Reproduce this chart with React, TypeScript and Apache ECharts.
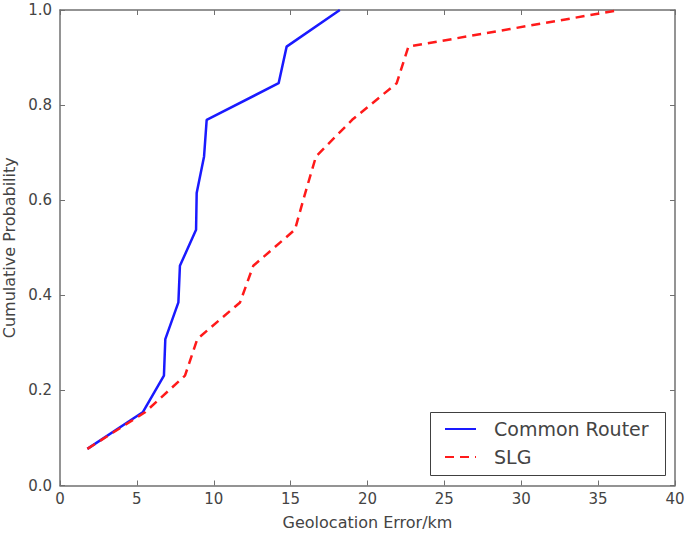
import React, { useEffect, useRef } from "react";
import * as echarts from "echarts";

const probabilities = [0.077, 0.154, 0.231, 0.308, 0.385, 0.462, 0.538, 0.615, 0.692, 0.769, 0.846, 0.923, 1.0];
const commonRouterErr = [1.78, 5.38, 6.76, 6.85, 7.7, 7.8, 8.85, 8.89, 9.37, 9.54, 14.22, 14.74, 18.2];
const slgErr = [1.78, 5.53, 8.13, 8.93, 11.71, 12.57, 15.28, 15.95, 16.65, 19.0, 21.9, 22.66, 36.4];
const seriesNames = ["Common Router", "SLG"];

const FONT = "DejaVu Sans";
const TEXT = "#444444";
const FRAME = "#707070";

export default function App() {
  const ref = useRef<HTMLDivElement>(null);
  useEffect(() => {
    if (!ref.current) return;
    const chart = echarts.init(ref.current, null, { renderer: "svg" });
    const pair = (xs: number[]) => xs.map((x, i) => [x, probabilities[i]]);
    const axisCommon = {
      axisLine: { show: true, onZero: false, lineStyle: { color: FRAME, width: 1.5 } },
      axisTick: { show: true, inside: true, length: 5, lineStyle: { color: FRAME, width: 1 } },
      splitLine: { show: false },
    };
    chart.setOption({
      animation: false,
      backgroundColor: "#ffffff",
      grid: { left: 60, right: 10, top: 10, bottom: 48.5, containLabel: false, outerBoundsMode: "none" },
      xAxis: [
        {
          type: "value",
          min: 0,
          max: 40,
          interval: 5,
          position: "bottom",
          name: "Geolocation Error/km",
          nameLocation: "middle",
          nameGap: 29,
          nameTextStyle: { fontFamily: FONT, fontSize: 16, color: TEXT },
          axisLabel: { fontFamily: FONT, fontSize: 15, color: TEXT, margin: 6 },
          ...axisCommon,
        },
        {
          type: "value",
          min: 0,
          max: 40,
          interval: 5,
          position: "top",
          axisLabel: { show: false },
          ...axisCommon,
        },
      ],
      yAxis: [
        {
          type: "value",
          min: 0,
          max: 1,
          interval: 0.2,
          position: "left",
          name: "Cumulative Probability",
          nameLocation: "middle",
          nameGap: 42,
          nameTextStyle: { fontFamily: FONT, fontSize: 16, color: TEXT },
          axisLabel: {
            fontFamily: FONT,
            fontSize: 15,
            color: TEXT,
            margin: 8,
            formatter: (v: number) => v.toFixed(1),
          },
          ...axisCommon,
        },
        {
          type: "value",
          min: 0,
          max: 1,
          interval: 0.2,
          position: "right",
          axisLabel: { show: false },
          ...axisCommon,
        },
      ],
      legend: {
        orient: "vertical",
        left: 444,
        top: 419,
        padding: 0,
        itemGap: 8,
        itemWidth: 31,
        itemHeight: 14,
        z: 10,
        data: seriesNames,
        itemStyle: { opacity: 0 },
        textStyle: {
          fontFamily: FONT,
          fontSize: 19,
          color: TEXT,
          lineHeight: 20,
          padding: [0, 0, 0, 13],
        },
      },
      graphic: [
        {
          type: "rect",
          shape: { x: 430.5, y: 412.5, width: 235, height: 63 },
          style: { fill: "#ffffff", stroke: "#404040", lineWidth: 1 },
          z: 1,
        },
      ],
      series: [
        {
          name: seriesNames[0],
          type: "line",
          data: pair(commonRouterErr),
          showSymbol: false,
          symbol: "none",
          color: "#1a1aff",
          lineStyle: { color: "#1a1aff", width: 2.5 },
          z: 3,
        },
        {
          name: seriesNames[1],
          type: "line",
          data: pair(slgErr),
          showSymbol: false,
          symbol: "none",
          color: "#ff1a1a",
          lineStyle: { color: "#ff1a1a", width: 2.5, type: [9, 6] },
          z: 4,
        },
      ],
    });
    return () => chart.dispose();
  }, []);
  return (
    <div
      ref={ref}
      style={{ position: "fixed", left: 0, top: 0, width: 685, height: 534, background: "#fff" }}
    />
  );
}
